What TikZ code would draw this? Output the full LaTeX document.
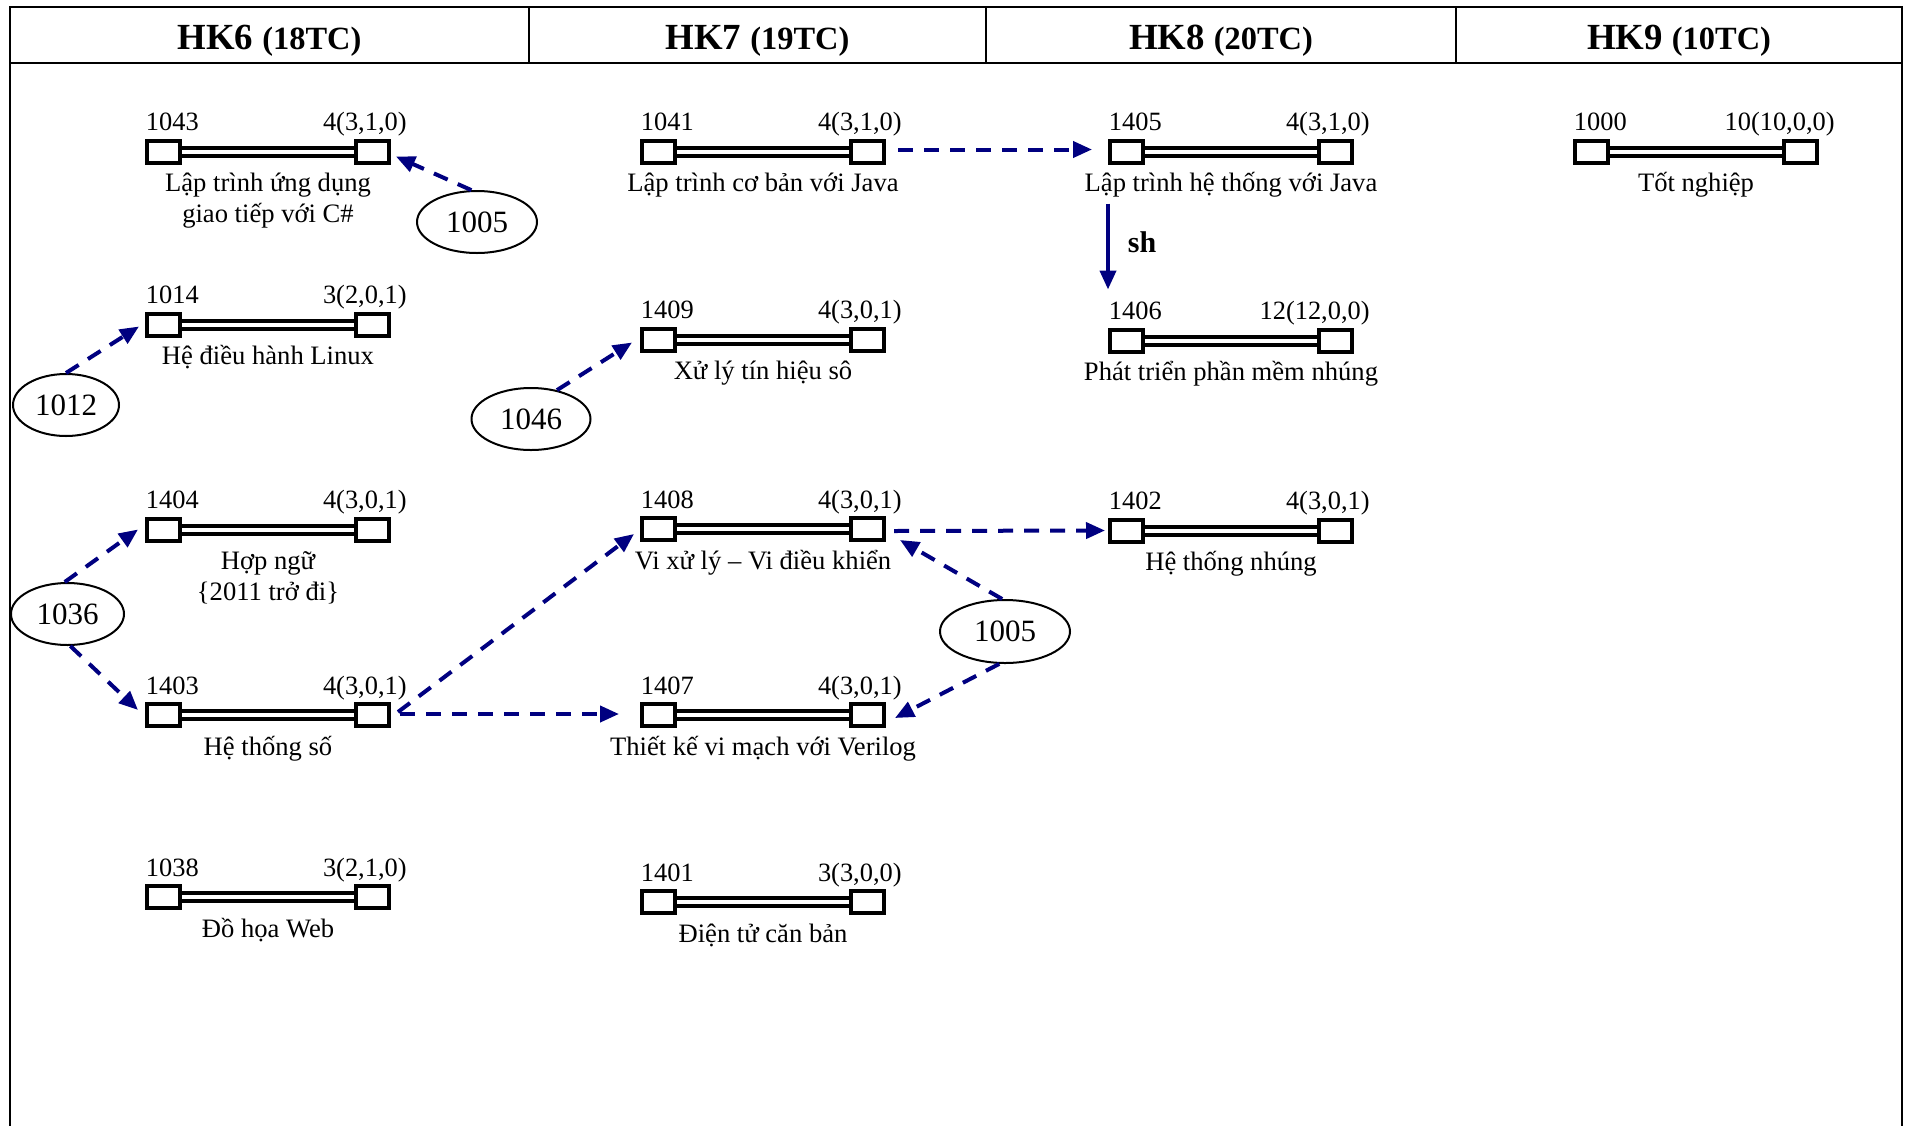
\documentclass[tikz,border=0pt]{standalone}
\usepackage{fontspec}
\setmainfont{Liberation Serif}
\usetikzlibrary{arrows.meta,shapes.geometric,calc}
\definecolor{navyc}{RGB}{0,0,128}
% #1 extra lines of the name, #2 id, #3 centre x, #4 centre y, #5 credits, #6 name
\newcommand\course[6][0]{%
  \node[cbox] (c#2L) at (#3-104.5,#4) {};
  \node[cbox] (c#2R) at (#3+104.5,#4) {};
  \draw[bar] (c#2L.east) -- (c#2R.west);
  \node[num, anchor=base west] (c#2n) at (#3-122.5,#4-21) {#2};
  \node[num, anchor=base east] (c#2c) at (#3+139,#4-21) {#5};
  \node[cname, anchor=base] (c#2t) at (#3,#4+40+31*#1) {#6};
}
\begin{document}
\begin{tikzpicture}[x=0.5pt,y=-0.5pt,
  cbox/.style={draw, line width=2pt, minimum width=16.5pt, minimum height=11pt, inner sep=0pt, fill=white},
  bar/.style={double, line width=2pt, double distance=2pt},
  num/.style={font=\fontsize{13.2}{14.5}\selectfont, inner sep=0pt},
  cname/.style={font=\fontsize{13.3}{15.5}\selectfont, inner sep=0pt, align=center},
  prereq/.style={ellipse, draw, line width=1pt, inner sep=0pt, font=\fontsize{15.5}{17}\selectfont},
  dep/.style={navyc, line width=2pt, dash pattern=on 7.5pt off 5.5pt, -{Triangle[length=9.5pt,width=8pt]}},
  seq/.style={navyc, line width=2pt, -{Triangle[length=9.5pt,width=8pt]}},
  frame/.style={line width=1.3pt},
  head/.style={inner sep=0pt, font=\bfseries}
]
\useasboundingbox (0,0) rectangle (1906,1125);
% frame and header
\draw[frame] (10,1126) -- (10,7) -- (1902,7) -- (1902,1126);
\draw[frame] (10,63) -- (1902,63);
\draw[frame] (529,7) -- (529,63);
\draw[frame] (986,7) -- (986,63);
\draw[frame] (1456,7) -- (1456,63);
\node[head] (h6) at (269.5,40.5) {\fontsize{18.4}{21}\selectfont HK6 {\fontsize{16.2}{19}\selectfont (18TC)}};
\node[head] (h7) at (757.5,40.5) {\fontsize{18.4}{21}\selectfont HK7 {\fontsize{16.2}{19}\selectfont (19TC)}};
\node[head] (h8) at (1221,40.5) {\fontsize{18.4}{21}\selectfont HK8 {\fontsize{16.2}{19}\selectfont (20TC)}};
\node[head] (h9) at (1679,40.5) {\fontsize{18.4}{21}\selectfont HK9 {\fontsize{16.2}{19}\selectfont (10TC)}};
% courses
\course[1]{1043}{268}{151.5}{4(3,1,0)}{Lập trình ứng dụng\\giao tiếp với C\#}
\course{1014}{268}{324.5}{3(2,0,1)}{Hệ điều hành Linux}
\course[1]{1404}{268}{529.5}{4(3,0,1)}{Hợp ngữ\\\{2011 trở đi\}}
\course{1403}{268}{715}{4(3,0,1)}{Hệ thống số}
\course{1038}{268}{897}{3(2,1,0)}{Đồ họa Web}
\course{1041}{763}{151.5}{4(3,1,0)}{Lập trình cơ bản với Java}
\course{1409}{763}{339.5}{4(3,0,1)}{Xử lý tín hiệu sô}
\course{1408}{763}{529}{4(3,0,1)}{Vi xử lý – Vi điều khiển}
\course{1407}{763}{715}{4(3,0,1)}{Thiết kế vi mạch với Verilog}
\course{1401}{763}{902}{3(3,0,0)}{Điện tử căn bản}
\course{1405}{1231}{151.5}{4(3,1,0)}{Lập trình hệ thống với Java}
\course{1406}{1231}{340.5}{12(12,0,0)}{Phát triển phần mềm nhúng}
\course{1402}{1231}{530.5}{4(3,0,1)}{Hệ thống nhúng}
\course{1000}{1696}{151.5}{10(10,0,0)}{Tốt nghiệp}
% prerequisite ellipses
\node[prereq, minimum width=60pt, minimum height=31pt] (e1005a) at (477,222) {1005};
\node[prereq, minimum width=53pt, minimum height=31pt] (e1012) at (66,405) {1012};
\node[prereq, minimum width=56.5pt, minimum height=31pt] (e1036) at (67.5,614) {1036};
\node[prereq, minimum width=59.5pt, minimum height=31pt] (e1046) at (531,419) {1046};
\node[prereq, minimum width=65pt, minimum height=31.5pt] (e1005b) at (1005,631.5) {1005};
% dependencies
\draw[dep] (e1005a.100) -- ($(c1043R.east)+(5,5)$);
\draw[dep] (e1012.north) -- ($(c1014L.west)+(-6,2)$);
\draw[dep] (e1036.95) -- ($(c1404L.west)+(-7,0)$);
\draw[dep] (e1036.275) -- ($(c1403L.west)+(-7,-5)$);
\draw[dep] (e1046.48) -- ($(c1409L.west)+(-8,3)$);
\draw[dep] ($(c1403R.east)+(7,-3)$) -- ($(c1408L.west)+(-6,5)$);
\draw[dep] ($(c1403R.east)+(9,-1)$) -- ($(c1407L.west)+(-21,-1)$);
\draw[dep] ($(c1041R.east)+(12,-2)$) -- ($(c1405L.west)+(-16,-2)$);
\draw[dep] ($(c1408R.east)+(8,2)$) -- ($(c1402L.west)+(-3,0)$);
\draw[dep] (e1005b.95) -- ($(c1408R.east)+(14,11)$);
\draw[dep] (e1005b.260) -- ($(c1407R.east)+(9,3)$);
\draw[seq] ($(c1405L.south west)+(0,39)$) -- ($(c1406L.north west)+(0,-38)$);
\node[inner sep=0pt, font=\fontsize{15}{17}\selectfont\bfseries, anchor=base] (lsh) at (1142,252) {sh};
\end{tikzpicture}
\end{document}
